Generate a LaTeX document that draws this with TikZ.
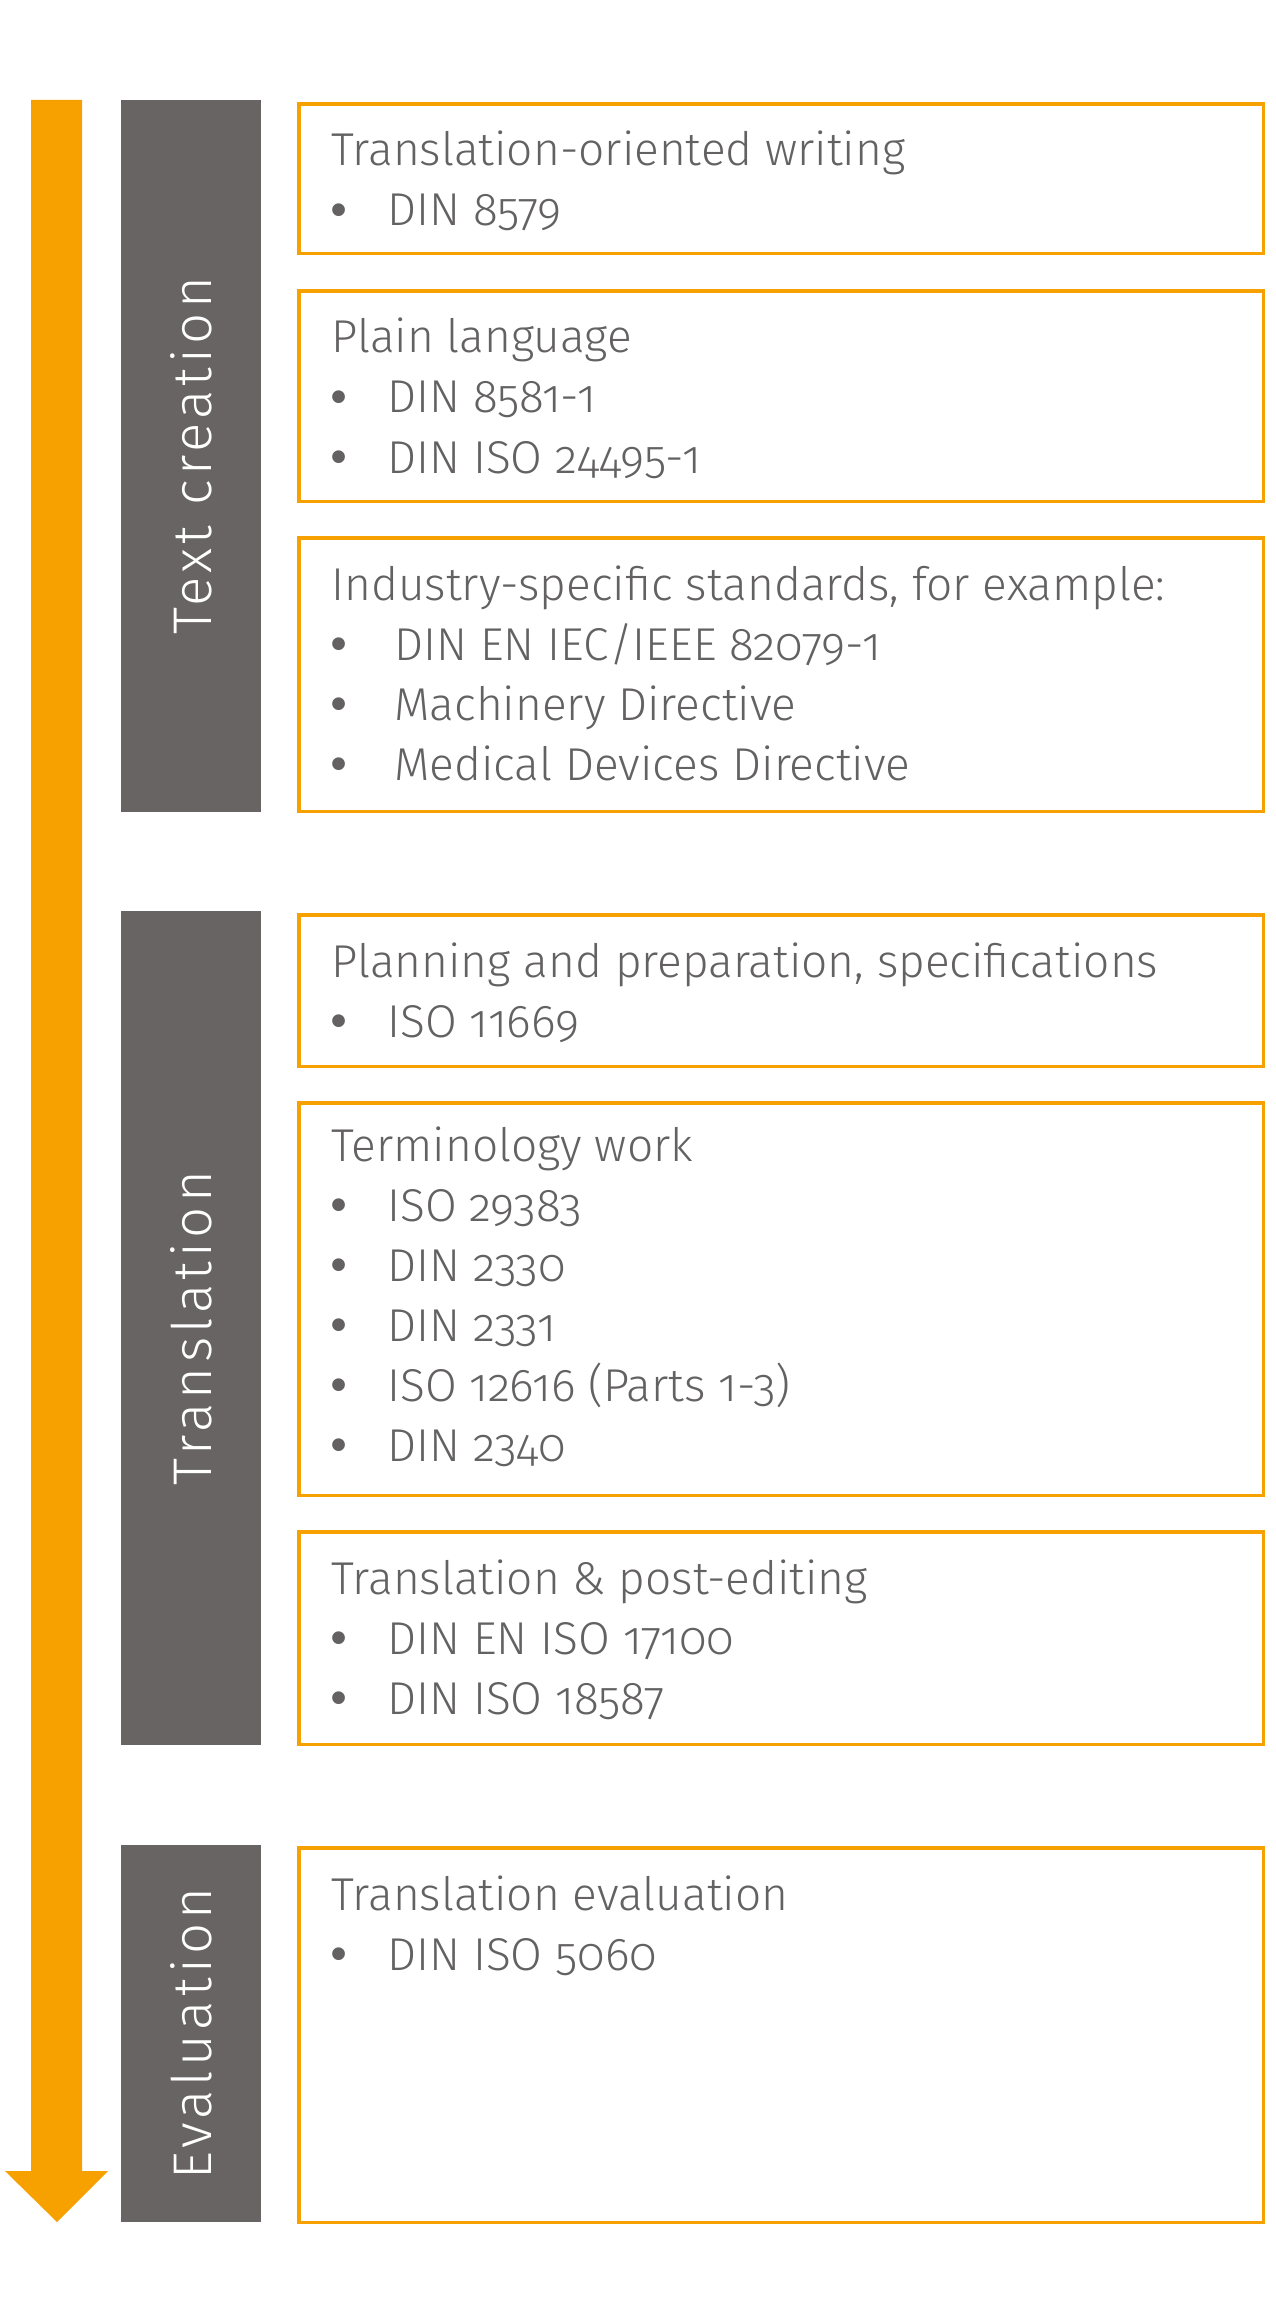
\documentclass[tikz,border=0pt]{standalone}
\usepackage{fontspec}
\setmainfont{Fira Sans Light}[Numbers=OldStyle]
\newfontfamily\dotfont{DejaVu Sans}
\usetikzlibrary{arrows.meta}

\definecolor{stdorange}{HTML}{F7A100}
\definecolor{bargray}{HTML}{676463}
\definecolor{txtgray}{HTML}{636162}

\newcommand\bul[1][1.12cm]{\makebox[#1][l]{\raisebox{6.4pt}{\dotfont\fontsize{9.5}{10}\selectfont ●}}}

\tikzset{
    phase/.style={fill=bargray, text=white, rotate=90, inner sep=0pt,
        minimum height=2.8cm,
        font=\fontsize{31}{33}\selectfont\addfontfeatures{LetterSpace=8}},
    stdbox/.style={draw=stdorange, line width=2pt, anchor=north west,
        inner sep=0pt, minimum width=19.3cm},
    head/.style={anchor=base west, inner sep=0pt, text=txtgray,
        font=\fontsize{26.2}{30}\selectfont},
}

\begin{document}
\begin{tikzpicture}[x=0.02cm, y=-0.02cm]
        \useasboundingbox (0,0) rectangle (1275,2321);
        \fill[stdorange] (31,100) -- (82,100) -- (82,2171) -- (108,2171)
            -- (57,2222) -- (5,2171) -- (31,2171) -- cycle;

        \node[phase, minimum width=14.24cm] (textcreation) at (191,456) {Text creation};
        \node[phase, minimum width=16.68cm] (translation) at (191,1328) {Translation};
        \node[phase, minimum width=7.54cm] (evaluation) at (191,2033.5) {Evaluation};

        \node[stdbox, minimum height=3.0cm] (writing) at (297,102) {};
        \node[head] (writing1) at (331,166) {Translation-oriented writing};
        \node[head] (writing2) at (331,226) {\bul DIN 8579};

        \node[stdbox, minimum height=4.22cm] (plain) at (297,289) {};
        \node[head] (plain1) at (331,353) {Plain language};
        \node[head] (plain2) at (331,413) {\bul DIN 8581-1};
        \node[head] (plain3) at (331,473) {\bul DIN ISO 24495-1};

        \node[stdbox, minimum height=5.48cm] (industry) at (297,536) {};
        \node[head] (industry1) at (331,600) {Industry-specific standards, for example:};
        \node[head] (industry2) at (331,660) {\bul[1.26cm]DIN EN IEC/IEEE 82079-1};
        \node[head] (industry3) at (331,720) {\bul[1.26cm]Machinery Directive};
        \node[head] (industry4) at (331,780) {\bul[1.26cm]Medical Devices Directive};

        \node[stdbox, minimum height=3.04cm] (planning) at (297,913) {};
        \node[head] (planning1) at (331,977) {Planning and preparation, specifications};
        \node[head] (planning2) at (331,1037) {\bul ISO 11669};

        \node[stdbox, minimum height=7.86cm] (termwork) at (297,1101) {};
        \node[head] (termwork1) at (331,1161) {Terminology work};
        \node[head] (termwork2) at (331,1221) {\bul ISO 29383};
        \node[head] (termwork3) at (331,1281) {\bul DIN 2330};
        \node[head] (termwork4) at (331,1341) {\bul DIN 2331};
        \node[head] (termwork5) at (331,1401) {\bul ISO 12616 (Parts 1-3)};
        \node[head] (termwork6) at (331,1461) {\bul DIN 2340};

        \node[stdbox, minimum height=4.26cm] (postedit) at (297,1530) {};
        \node[head] (postedit1) at (331,1594) {Translation \& post-editing};
        \node[head] (postedit2) at (331,1654) {\bul DIN EN ISO 17100};
        \node[head] (postedit3) at (331,1714) {\bul DIN ISO 18587};

        \node[stdbox, minimum height=7.5cm] (transeval) at (297,1846) {};
        \node[head] (transeval1) at (331,1910) {Translation evaluation};
        \node[head] (transeval2) at (331,1970) {\bul DIN ISO 5060};
    \end{tikzpicture}
\end{document}
